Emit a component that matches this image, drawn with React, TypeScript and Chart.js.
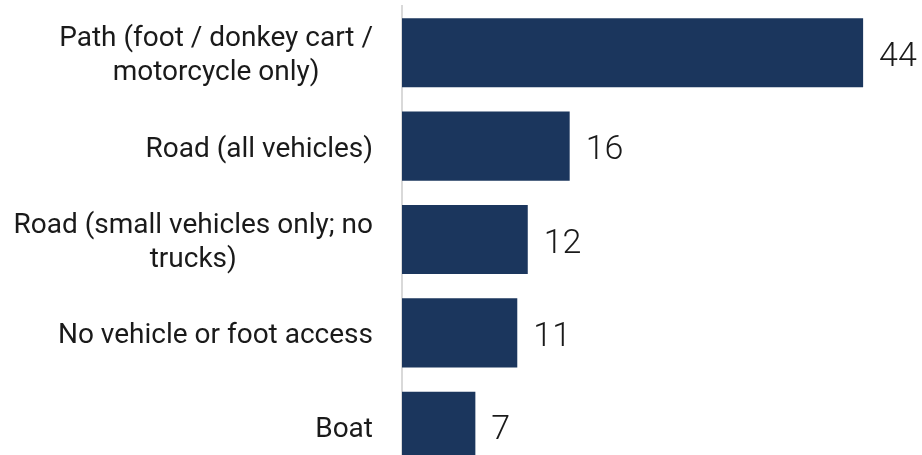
import React, { useEffect, useRef } from "react";
import { Chart, registerables } from "chart.js";

Chart.register(...registerables);

const categories: string[][] = [
  ["Path (foot / donkey cart /", "motorcycle only)"],
  ["Road (all vehicles)"],
  ["Road (small vehicles only; no", "trucks)"],
  ["No vehicle or foot access"],
  ["Boat"],
];
const values: number[] = [44, 16, 12, 11, 7];

const BAR_COLOR = "#1b365d";
const TEXT_COLOR = "#1a1a1a";
const LABEL_FONT = "400 28px Roboto, 'Noto Sans', sans-serif";
const VALUE_FONT = "300 34px Roboto, 'Noto Sans', sans-serif";

const labelPlugin = {
  id: "customLabels",
  afterDatasetsDraw(chart: any) {
    const ctx = chart.ctx as CanvasRenderingContext2D;
    const yScale = chart.scales.y;
    const meta = chart.getDatasetMeta(0);
    ctx.save();
    // category labels
    ctx.font = LABEL_FONT;
    ctx.fillStyle = TEXT_COLOR;
    ctx.textBaseline = "alphabetic";
    const lineH = 34;
    const rightEdge = chart.chartArea.left - 29;
    categories.forEach((lines, i) => {
      const cy = yScale.getPixelForValue(i);
      const widths = lines.map((l) => ctx.measureText(l).width);
      const blockW = Math.max(...widths);
      const blockCenter = rightEdge - blockW / 2;
      const firstCenter = cy - ((lines.length - 1) * lineH) / 2;
      lines.forEach((l, j) => {
        ctx.textAlign = "center";
        ctx.fillText(l, blockCenter, firstCenter + j * lineH + 10.5);
      });
    });
    // value labels
    ctx.font = VALUE_FONT;
    ctx.textAlign = "left";
    meta.data.forEach((bar: any, i: number) => {
      ctx.fillText(String(values[i]), bar.x + 16, bar.y + 13);
    });
    ctx.restore();
  },
};

export default function App() {
  const ref = useRef<HTMLCanvasElement | null>(null);
  useEffect(() => {
    if (!ref.current) return;
    const chart = new Chart(ref.current, {
      type: "bar",
      data: {
        labels: categories.map((c) => c.join(" ")),
        datasets: [
          {
            data: values,
            backgroundColor: BAR_COLOR,
            borderWidth: 0,
            barPercentage: 0.74,
            categoryPercentage: 1,
          },
        ],
      },
      options: {
        indexAxis: "y",
        responsive: false,
        animation: false,
        devicePixelRatio: 1,
        layout: { padding: { top: 6, bottom: 2, right: 14, left: 0 } },
        plugins: {
          legend: { display: false },
          tooltip: { enabled: false },
        },
        scales: {
          x: {
            display: false,
            min: 0,
            max: 50,
          },
          y: {
            display: true,
            grid: { display: false, drawTicks: false },
            border: { display: true, color: "#d9d9d9", width: 2 },
            ticks: { display: false },
            afterFit(scale: any) {
              scale.width = 402;
            },
          },
        },
      },
      plugins: [labelPlugin],
    });
    return () => chart.destroy();
  }, []);
  return (
    <div
      style={{
        position: "fixed",
        left: 0,
        top: 0,
        width: 922,
        height: 455,
        overflow: "hidden",
        background: "#ffffff",
      }}
    >
      <canvas ref={ref} width={940} height={475} style={{ width: 940, height: 475, display: "block" }} />
    </div>
  );
}
